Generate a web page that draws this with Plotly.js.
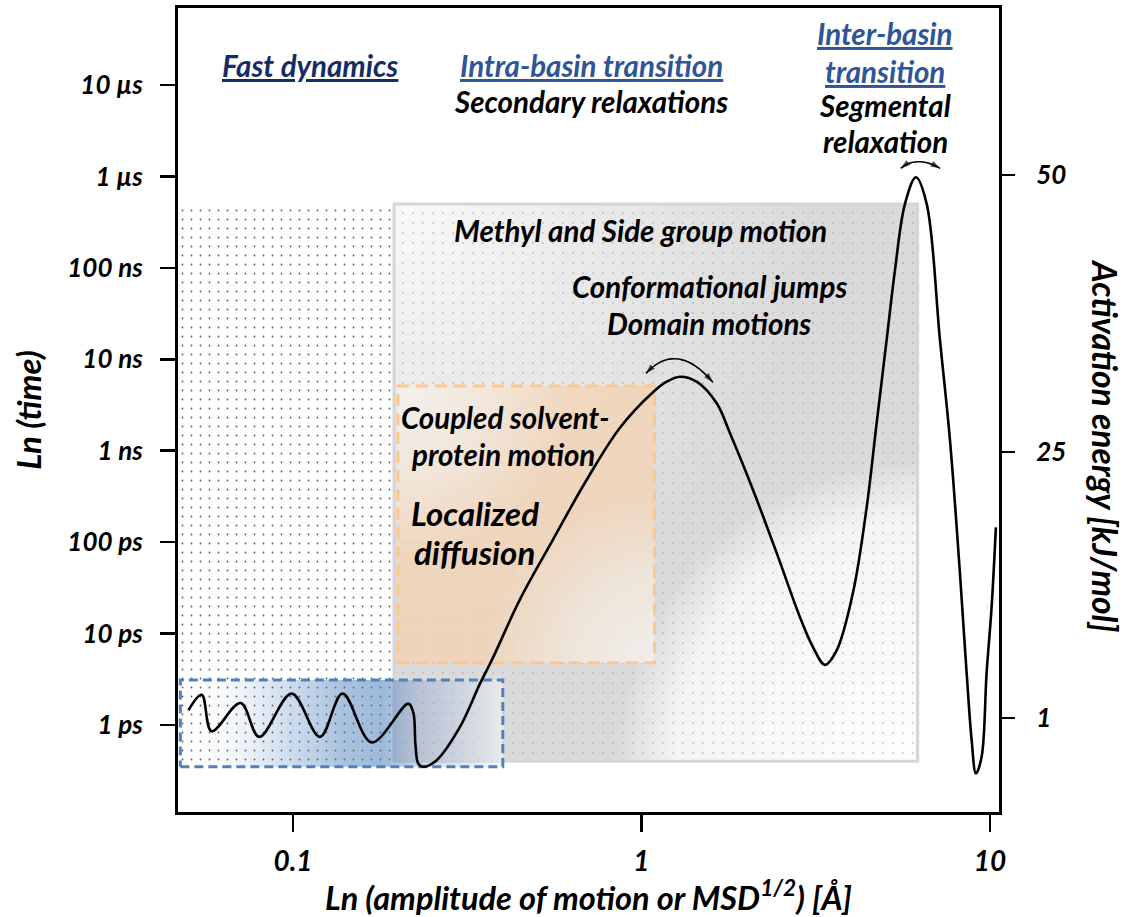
<!DOCTYPE html>
<html><head><meta charset="utf-8">
<script src="https://cdn.plot.ly/plotly-3.0.1.min.js"></script>
<style>html,body{margin:0;padding:0;background:#fff;} #chart{width:1129px;height:917px;}</style>
</head><body><div id="chart"></div>
<script>
// ---------------- data ----------------
const amplitudeTickVals = [0.1, 1, 10];
const amplitudeTickText = ['0.1', '1', '10'];
const timeTickVals = [1e-12, 1e-11, 1e-10, 1e-9, 1e-8, 1e-7, 1e-6, 1e-5];
const timeTickText = ['1 ps', '10 ps', '100 ps', '1 ns', '10 ns', '100 ns', '1 µs', '10 µs'];
const energyTickVals = [1, 25, 50];
const energyTickText = ['1', '25', '50'];

// schematic energy landscape: amplitude [Å] vs activation energy [kJ/mol]
const landscapeAmplitude = [0.0501, 0.0547, 0.0584, 0.0707, 0.0800, 0.0991, 0.1195, 0.1387, 0.1682, 0.2142,
  0.2214, 0.2246, 0.2288, 0.2365, 0.2584, 0.3014, 0.3440, 0.3717, 0.4481, 0.5574,
  0.6964, 0.8675, 1.079, 1.181, 1.290, 1.440, 1.644, 1.795, 2.089, 2.443, 2.850, 3.105,
  3.362, 3.632, 4.045, 4.428, 4.730, 5.052, 5.338, 5.704, 6.134, 6.584,
  7.188, 7.678, 8.201, 8.572, 8.861, 9.117, 9.466, 9.783, 10.11, 10.40];
const landscapeEnergy = [1.7, 3.1, -0.2, 2.35, -0.7, 3.2, -0.7, 3.2, -1.2, 2.3,
  1.5, -1.4, -3.1, -3.4, -2.8, 0.2, 4.1, 6.2, 11.7, 17.1,
  22.5, 27.2, 30.4, 31.35, 31.8, 31.35, 29.4, 26.7, 21.6, 15.9, 10.1, 7.4,
  5.8, 7.1, 12.3, 20.0, 27.6, 35.1, 41.4, 47.4, 49.8, 47.4,
  35.1, 26.1, 14.1, 5.1, -1.0, -4.0, -2.5, 5.1, 11.0, 18.2];

// regions of motion: amplitude range [Å] and time range [s]
const fastDynamicsAmp = [0.03, 0.195];
const fastDynamicsTime = [4e-13, 5e-7];
const intraBasinAmp = [0.195, 6.2];
const intraBasinTime = [4e-13, 5e-7];
const coupledSolventAmp = [0.2, 1.09];
const coupledSolventTime = [4.8e-12, 5.1e-9];
const localizedAmp = [0.0475, 0.40];
const localizedTime = [3.5e-13, 3.1e-12];

// ---------------- helpers ----------------
const FONT = 'Lato, "Open Sans", sans-serif';
const L = Math.log10, P = v => Math.pow(10, v);
function rectTrace(ax, at, extra) {
  return Object.assign({
    type: 'scatter', x: [ax[0], ax[1], ax[1], ax[0], ax[0]], y: [at[0], at[0], at[1], at[1], at[0]],
    xaxis: 'x', yaxis: 'y', mode: 'lines', fill: 'toself', hoverinfo: 'skip', showlegend: false,
    line: {width: 0, color: 'rgba(0,0,0,0)', simplify: false}
  }, extra);
}
// radial spot centred on (cx, cy) [log units], half sizes rx, ry [log units]
function spotTrace(cx, cy, rx, ry, colorscale) {
  return rectTrace([P(cx - rx), P(cx + rx)], [P(cy - ry), P(cy + ry)], {
    fillcolor: 'rgba(0,0,0,0)', fillgradient: {type: 'radial', colorscale: colorscale}
  });
}
// radial spot whose centre is a box corner; only the inner quadrant is filled (zero-area spike sets the bbox)
function cornerSpotTrace(cx, cy, sx, sy, rx, ry, colorscale) {
  const xs = [cx, cx + sx * rx, cx + sx * rx, cx, cx, cx - sx * rx, cx].map(P);
  const ys = [cy, cy, cy + sy * ry, cy + sy * ry, cy, cy - sy * ry, cy].map(P);
  return {type: 'scatter', x: xs, y: ys, xaxis: 'x', yaxis: 'y', mode: 'lines', fill: 'toself',
    hoverinfo: 'skip', showlegend: false, line: {width: 0, color: 'rgba(0,0,0,0)', simplify: false},
    fillcolor: 'rgba(0,0,0,0)', fillgradient: {type: 'radial', colorscale: colorscale}};
}
function borderTrace(ax, at, color, width, dash) {
  return {type: 'scatter', x: [ax[0], ax[1], ax[1], ax[0], ax[0]], y: [at[0], at[0], at[1], at[1], at[0]],
    xaxis: 'x', yaxis: 'y', mode: 'lines', hoverinfo: 'skip', showlegend: false,
    line: {width: width, color: color, dash: dash || 'solid', simplify: false}};
}
// quadratic arc through three points (log10 amplitude, energy), arrow heads at both ends
function arcArrow(p0, t, p2) {
  const p1 = [2 * t[0] - (p0[0] + p2[0]) / 2, 2 * t[1] - (p0[1] + p2[1]) / 2];
  const half = (a) => { const xs = [], ys = [];
    for (let i = 0; i <= 10; i++) { const s = 0.5 + (a ? -1 : 1) * i * 0.05;
      const u = 1 - s; xs.push(P(u * u * p0[0] + 2 * u * s * p1[0] + s * s * p2[0]));
      ys.push(u * u * p0[1] + 2 * u * s * p1[1] + s * s * p2[1]); }
    return {type: 'scatter', x: xs, y: ys, xaxis: 'x', yaxis: 'y2', mode: 'lines+markers', hoverinfo: 'skip',
      showlegend: false, line: {color: '#000', width: 1.6, shape: 'spline'},
      marker: {symbol: 'arrow', angleref: 'previous', color: '#000', size: xs.map((v, i) => i === 10 ? 10 : 0), line: {width: 0}}};
  };
  return [half(true), half(false)];
}

// ---------------- traces ----------------
const traces = [];
const gi = [L(intraBasinAmp[0]), L(intraBasinAmp[1])], gt = [L(intraBasinTime[0]), L(intraBasinTime[1])];
traces.push(rectTrace(intraBasinAmp, intraBasinTime, {fillcolor: '#dadada'}));
traces.push(spotTrace(gi[0], gt[1], 1.2, 4.6, [[0, 'rgba(255,255,255,0.85)'], [0.45, 'rgba(255,255,255,0.45)'], [1, 'rgba(255,255,255,0)']]));
traces.push(spotTrace(gi[1], gt[0], 0.86, 3.28, [[0, 'rgba(255,255,255,0.97)'], [0.8, 'rgba(255,255,255,0.72)'], [0.93, 'rgba(255,255,255,0.28)'], [1, 'rgba(255,255,255,0)']]));
traces.push(rectTrace(fastDynamicsAmp, fastDynamicsTime, {fillcolor: 'rgba(0,0,0,0)',
  fillpattern: {shape: '.', size: 9, solidity: 0.03, fgcolor: '#3a3a3a', fgopacity: 0.85, bgcolor: 'rgba(0,0,0,0)'}}));
traces.push(rectTrace(intraBasinAmp, intraBasinTime, {fillcolor: 'rgba(0,0,0,0)',
  fillpattern: {shape: '.', size: 10, solidity: 0.028, fgcolor: '#999999', fgopacity: 0.55, bgcolor: 'rgba(0,0,0,0)'}}));
traces.push(borderTrace(intraBasinAmp, intraBasinTime, '#d5d5d5', 3));

// coupled solvent-protein motion box
const oi = [L(coupledSolventAmp[0]), L(coupledSolventAmp[1])], ot = [L(coupledSolventTime[0]), L(coupledSolventTime[1])];
traces.push(rectTrace(coupledSolventAmp, coupledSolventTime, {fillcolor: 'rgba(243,210,178,0.76)'}));
traces.push(cornerSpotTrace(oi[0], ot[1], 1, -1, 0.50, 1.9, [[0, 'rgba(243,241,238,0.97)'], [0.5, 'rgba(243,241,238,0.6)'], [1, 'rgba(243,241,238,0)']]));
traces.push(cornerSpotTrace(oi[1], ot[0], -1, 1, 0.50, 1.9, [[0, 'rgba(240,239,237,0.97)'], [0.5, 'rgba(240,239,237,0.6)'], [1, 'rgba(240,239,237,0)']]));
traces.push(borderTrace(coupledSolventAmp, coupledSolventTime, '#fcc890', 3, '12px,7px'));

// localized / fast box
traces.push(rectTrace(localizedAmp, localizedTime, {fillcolor: 'rgba(0,0,0,0)', fillgradient: {type: 'horizontal',
  colorscale: [[0, 'rgba(255,255,255,0)'], [0.25, 'rgba(79,129,189,0.16)'], [0.5, 'rgba(79,129,189,0.48)'], [0.63, 'rgba(79,129,189,0.56)'], [0.75, 'rgba(150,170,210,0.45)'], [1, 'rgba(245,245,248,0.6)']]}}));
traces.push(borderTrace(localizedAmp, localizedTime, '#4f81bd', 3, '9px,5px'));

// energy landscape
traces.push({type: 'scatter', x: landscapeAmplitude, y: landscapeEnergy, xaxis: 'x', yaxis: 'y2', mode: 'lines',
  line: {color: '#000', width: 2.6, shape: 'spline', smoothing: 1}, hoverinfo: 'skip', showlegend: false});
// double arrows
traces.push(...arcArrow([0.013, 32.1], [0.105, 33.4], [0.205, 31.3]));
traces.push(...arcArrow([0.744, 50.6], [0.796, 51.2], [0.857, 50.6]));

// ---------------- annotations ----------------
const W = 821, H = 804, X0 = 178, Y0 = 8;
function ann(px, py, text, o) {
  o = o || {};
  return {xref: 'paper', yref: 'paper', x: (px - X0) / W, y: 1 - (py - Y0) / H, text: text, showarrow: false,
    xanchor: o.xanchor || 'center', yanchor: 'middle', textangle: o.angle || 0,
    font: {family: FONT, size: o.size || 29.5, color: o.color || '#000', weight: 'bold', style: 'italic'}};
}
const NAVY = '#142c66', BLUE = '#2f5597';
const annotations = [
  ann(310, 66, '<u>Fast dynamics</u>', {color: NAVY}),
  ann(591, 66, '<u>Intra-basin transition</u>', {color: BLUE}),
  ann(591, 102, 'Secondary relaxations'),
  ann(885, 33, '<u>Inter-basin</u>', {color: BLUE}),
  ann(885, 71, '<u>transition</u>', {color: BLUE}),
  ann(885, 106, 'Segmental'),
  ann(885, 141, 'relaxation'),
  ann(640, 230, 'Methyl and Side group motion'),
  ann(709, 287, 'Conformational jumps'),
  ann(709, 323, 'Domain motions'),
  ann(399, 418, 'Coupled solvent-', {xanchor: 'left'}),
  ann(409, 454, 'protein motion', {xanchor: 'left'}),
  ann(475, 513, 'Localized', {size: 33}),
  ann(474, 552, 'diffusion', {size: 33}),
  ann(1105, 446, 'Activation energy [kJ/mol]', {angle: 90, size: 33.5})
];

const tickFont = {family: FONT, size: 26, color: '#000', weight: 'bold', style: 'italic'};
const layout = {
  width: 1129, height: 917, margin: {l: 178, r: 130, t: 8, b: 105}, paper_bgcolor: '#fff', plot_bgcolor: 'rgba(0,0,0,0)',
  showlegend: false,
  xaxis: {type: 'log', range: [-1.330, 1.026], tickvals: amplitudeTickVals, ticktext: amplitudeTickText,
    showgrid: false, zeroline: false, showline: true, linecolor: '#000', linewidth: 3, mirror: true,
    ticks: 'outside', ticklen: 17, tickwidth: 2.5, tickcolor: '#000', ticklabelstandoff: 5,
    tickfont: Object.assign({}, tickFont, {size: 28}),
    title: {text: 'Ln (amplitude of motion or MSD<sup>1/2</sup>) [Å]', standoff: 0,
      font: {family: FONT, size: 32.5, color: '#000', weight: 'bold', style: 'italic'}}},
  yaxis: {type: 'log', range: [-12.952, -4.158], tickvals: timeTickVals, ticktext: timeTickText,
    showgrid: false, zeroline: false, showline: true, linecolor: '#000', linewidth: 3,
    ticks: 'outside', ticklen: 15, tickwidth: 2.5, tickcolor: '#000', ticklabelstandoff: 12, tickfont: tickFont,
    title: {text: 'Ln (time)', standoff: 16, font: {family: FONT, size: 33, color: '#000', weight: 'bold', style: 'italic'}}},
  yaxis2: {overlaying: 'y', side: 'right', range: [-7.48, 65.07], tickvals: energyTickVals, ticktext: energyTickText,
    showgrid: false, zeroline: false, showline: true, linecolor: '#000', linewidth: 3,
    ticks: 'outside', ticklen: 13, tickwidth: 2.5, tickcolor: '#000', ticklabelstandoff: 16, tickfont: tickFont},
  annotations: annotations
};
Plotly.newPlot('chart', traces, layout, {displayModeBar: false, staticPlot: true});
</script></body></html>
